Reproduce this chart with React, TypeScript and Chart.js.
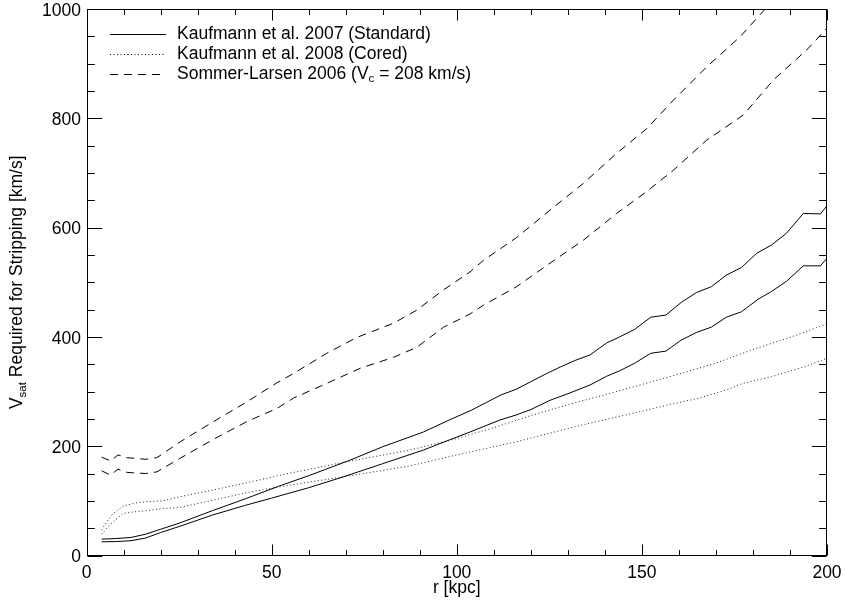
import React, { useEffect, useRef } from 'react';
import { Chart, registerables } from 'chart.js';

Chart.register(...registerables);

const FONT = '"Liberation Sans", Arial, Helvetica, sans-serif';

// Kaufmann et al. 2007 (Standard) — upper and lower curves
const stdHiR = [4.1, 8, 12, 16, 20, 25, 34, 43, 52, 60, 71, 80, 91, 98, 104, 108, 112, 116, 120, 124, 128, 132, 136, 140.5, 144, 148.1, 152.4, 156.5, 160.6, 164.7, 168.8, 172.8, 176.9, 181, 185, 189.1, 193.6, 198.2, 200];
const stdHiV = [30, 31, 33, 39, 48, 59, 82, 104, 127, 146, 174, 199, 226, 248, 266, 280, 294, 304, 318, 332, 345, 357, 367, 389, 400, 414, 436, 440, 463, 481, 492, 513, 527, 553, 568, 590, 626, 625, 640];
const stdLoR = [4.1, 8, 12, 16, 20, 25, 34, 43, 50, 60, 69.4, 80, 91, 98.2, 103.6, 108, 111.7, 116, 120, 125.2, 130, 136, 140.5, 144, 148.1, 152.4, 156.5, 160.6, 164.7, 168.8, 172.8, 176.9, 181.4, 185, 189.1, 193.6, 198.2, 200];
const stdLoV = [25, 25.5, 27, 32, 42, 53, 74, 92, 105, 124, 144, 168, 193, 212, 226, 238, 248, 257, 267, 284, 296, 312, 328, 338, 352, 370, 374, 394, 408, 418, 436, 446, 469, 483, 502, 530, 530, 544];

// Kaufmann et al. 2008 (Cored) — upper and lower curves
const corHiR = [4.1, 5.5, 7.2, 9.9, 13, 16.3, 20.7, 25.3, 34.3, 43.3, 52.3, 69.4, 87.4, 100, 110, 120, 130, 140, 150, 160, 170, 180, 190, 200];
const corHiV = [47, 62, 77, 90, 96, 98.5, 100, 107.6, 120, 133, 147, 170.5, 193, 214, 234, 256, 276, 294, 313, 332, 352, 377, 399, 424];
const corLoR = [4.1, 5.5, 7.2, 9.9, 13, 16.3, 20.7, 25.3, 34.3, 43.3, 52.3, 69.4, 87.4, 100, 116, 134, 150, 158, 165.5, 172.8, 177.3, 185, 194, 200];
const corLoV = [39, 50, 62, 77, 80, 82, 86, 88, 101.5, 115, 126, 144, 164, 184, 208, 239, 264, 277, 288, 303, 315, 327, 345.5, 361];

// Sommer-Larsen 2006 — upper and lower curves
const slHiR = [4.1, 6.5, 8.5, 11, 16, 19, 25.3, 34.3, 43.3, 51.4, 55.9, 64.9, 73, 82.9, 89.2, 96.4, 103.6, 107.2, 116.2, 125.2, 134.2, 143.2, 151.3, 158.5, 167.5, 176.5, 183.3, 186];
const slHiV = [180, 173, 184, 179, 176, 179, 208, 245, 281, 316, 333, 370, 399, 425, 449, 486, 519, 540, 582, 632, 681, 736, 781, 833, 894, 949, 1000, 1020];
const slLoR = [4.1, 6.5, 8.5, 11, 16, 19, 25.3, 34.3, 43.3, 51.4, 55.9, 64.9, 73.9, 82.9, 89.2, 96.4, 103.6, 107.2, 116.2, 125.2, 134.2, 143.2, 151.3, 158.5, 167.5, 177.4, 185.5, 194.5, 200];
const slLoV = [155, 147, 158, 152, 150, 153, 178, 212.6, 245, 269, 288, 315, 342.5, 362.6, 381, 417.6, 442, 458, 492, 535, 577, 626, 666, 705, 760, 806, 870, 925, 965];

const xMajorTicks = [0, 50, 100, 150, 200];
const xMinorTicks = [10, 20, 30, 40, 60, 70, 80, 90, 110, 120, 130, 140, 160, 170, 180, 190];
const yMajorTicks = [0, 200, 400, 600, 800, 1000];
const yMinorTicks = [50, 100, 150, 250, 300, 350, 450, 500, 550, 650, 700, 750, 850, 900, 950];

const xTitle = 'r [kpc]';
const yTitleParts = [
  { text: 'V', sub: false },
  { text: 'sat', sub: true },
  { text: ' Required for Stripping [km/s]', sub: false },
];
const legendEntries = [
  { style: 'solid', parts: [{ text: 'Kaufmann et al. 2007 (Standard)', sub: false }] },
  { style: 'dotted', parts: [{ text: 'Kaufmann et al. 2008 (Cored)', sub: false }] },
  {
    style: 'dashed',
    parts: [
      { text: 'Sommer-Larsen 2006 (V', sub: false },
      { text: 'c', sub: true },
      { text: ' = 208 km/s)', sub: false },
    ],
  },
];

const DOT = [1, 2.5];
const DASH = [8, 6];
const FS = 17.5;
const SUBFS = 11.5;

function pts(r: number[], v: number[]) {
  return r.map((x, i) => ({ x, y: v[i] }));
}

function dashFor(style: string) {
  return style === 'dotted' ? DOT : style === 'dashed' ? DASH : [];
}

function measureParts(ctx: CanvasRenderingContext2D, parts: { text: string; sub: boolean }[]) {
  let w = 0;
  for (const p of parts) {
    ctx.font = `${p.sub ? SUBFS : FS}px ${FONT}`;
    w += ctx.measureText(p.text).width;
  }
  return w;
}

function drawParts(ctx: CanvasRenderingContext2D, parts: { text: string; sub: boolean }[], x: number, y: number) {
  ctx.textAlign = 'left';
  ctx.textBaseline = 'middle';
  let cx = x;
  for (const p of parts) {
    ctx.font = `${p.sub ? SUBFS : FS}px ${FONT}`;
    ctx.fillText(p.text, cx, p.sub ? y + 5 : y);
    cx += ctx.measureText(p.text).width;
  }
}

const framePlugin = {
  id: 'idlFrame',
  afterDraw(chart: any) {
    const ctx: CanvasRenderingContext2D = chart.ctx;
    const { left, right, top, bottom } = chart.chartArea;
    const xs = chart.scales.x;
    const ys = chart.scales.y;
    ctx.save();
    ctx.strokeStyle = '#000';
    ctx.lineWidth = 1;
    ctx.setLineDash([]);
    const L = Math.round(left) + 0.5;
    const R = Math.round(right) - 0.5;
    const T = Math.round(top) + 0.5;
    const B = Math.round(bottom) - 0.5;
    ctx.strokeRect(L, T, R - L, B - T);

    const xMaj = 11, xMin = 5.5, yMaj = 14.8, yMin = 7.4;
    ctx.beginPath();
    const xt = (v: number, len: number) => {
      const p = Math.round(xs.getPixelForValue(v)) + 0.5;
      ctx.moveTo(p, B); ctx.lineTo(p, B - len);
      ctx.moveTo(p, T); ctx.lineTo(p, T + len);
    };
    const yt = (v: number, len: number) => {
      const p = Math.round(ys.getPixelForValue(v)) + 0.5;
      ctx.moveTo(L, p); ctx.lineTo(L + len, p);
      ctx.moveTo(R, p); ctx.lineTo(R - len, p);
    };
    xMajorTicks.forEach((v) => xt(v, xMaj));
    xMinorTicks.forEach((v) => xt(v, xMin));
    yMajorTicks.forEach((v) => yt(v, yMaj));
    yMinorTicks.forEach((v) => yt(v, yMin));
    ctx.stroke();

    ctx.fillStyle = '#000';
    ctx.font = `${FS}px ${FONT}`;
    ctx.textBaseline = 'middle';
    ctx.textAlign = 'center';
    xMajorTicks.forEach((v) => ctx.fillText(String(v), xs.getPixelForValue(v), 573));
    ctx.textAlign = 'right';
    yMajorTicks.forEach((v) => ctx.fillText(String(v), left - 5.5, ys.getPixelForValue(v) + 2));

    ctx.textAlign = 'center';
    ctx.fillText(xTitle, (left + right) / 2, 588);

    // y title (rotated)
    const tw = measureParts(ctx, yTitleParts);
    ctx.save();
    ctx.translate(17.5, (top + bottom) / 2);
    ctx.rotate(-Math.PI / 2);
    drawParts(ctx, yTitleParts, -tw / 2, 0);
    ctx.restore();

    // legend
    const rows = [34, 54, 74];
    legendEntries.forEach((e, i) => {
      const y = rows[i];
      ctx.beginPath();
      ctx.setLineDash(dashFor(e.style));
      ctx.lineWidth = 1;
      ctx.strokeStyle = '#000';
      ctx.moveTo(110, y + 0.5);
      ctx.lineTo(166, y + 0.5);
      ctx.stroke();
      ctx.setLineDash([]);
      ctx.fillStyle = '#000';
      drawParts(ctx, e.parts, 177, y);
    });
    ctx.restore();
  },
};

export default function App() {
  const ref = useRef<HTMLCanvasElement | null>(null);
  useEffect(() => {
    if (!ref.current) return;
    const base = { borderColor: '#000', borderWidth: 1, pointRadius: 0, tension: 0, fill: false };
    const chart = new Chart(ref.current, {
      type: 'line',
      data: {
        datasets: [
          { ...base, label: 'Kaufmann et al. 2007 (Standard)', data: pts(stdHiR, stdHiV) },
          { ...base, label: 'Kaufmann et al. 2007 (Standard) low', data: pts(stdLoR, stdLoV) },
          { ...base, label: 'Kaufmann et al. 2008 (Cored)', data: pts(corHiR, corHiV), borderDash: DOT, borderColor: '#222' },
          { ...base, label: 'Kaufmann et al. 2008 (Cored) low', data: pts(corLoR, corLoV), borderDash: DOT, borderColor: '#222' },
          { ...base, label: 'Sommer-Larsen 2006', data: pts(slHiR, slHiV), borderDash: DASH },
          { ...base, label: 'Sommer-Larsen 2006 low', data: pts(slLoR, slLoV), borderDash: DASH },
        ] as any,
      },
      options: {
        responsive: false,
        animation: false,
        events: [],
        layout: { padding: { left: 86.5, right: 19, top: 9, bottom: 51.5 } },
        scales: {
          x: { type: 'linear', min: 0, max: 200, display: false },
          y: { type: 'linear', min: 0, max: 1000, display: false },
        },
        plugins: { legend: { display: false }, tooltip: { enabled: false } },
      },
      plugins: [framePlugin],
    });
    return () => chart.destroy();
  }, []);
  return (
    <div style={{ position: 'fixed', left: 0, top: 0, width: 846, height: 607, background: '#fff' }}>
      <canvas ref={ref} width={846} height={607} style={{ width: 846, height: 607, display: 'block' }} />
    </div>
  );
}
